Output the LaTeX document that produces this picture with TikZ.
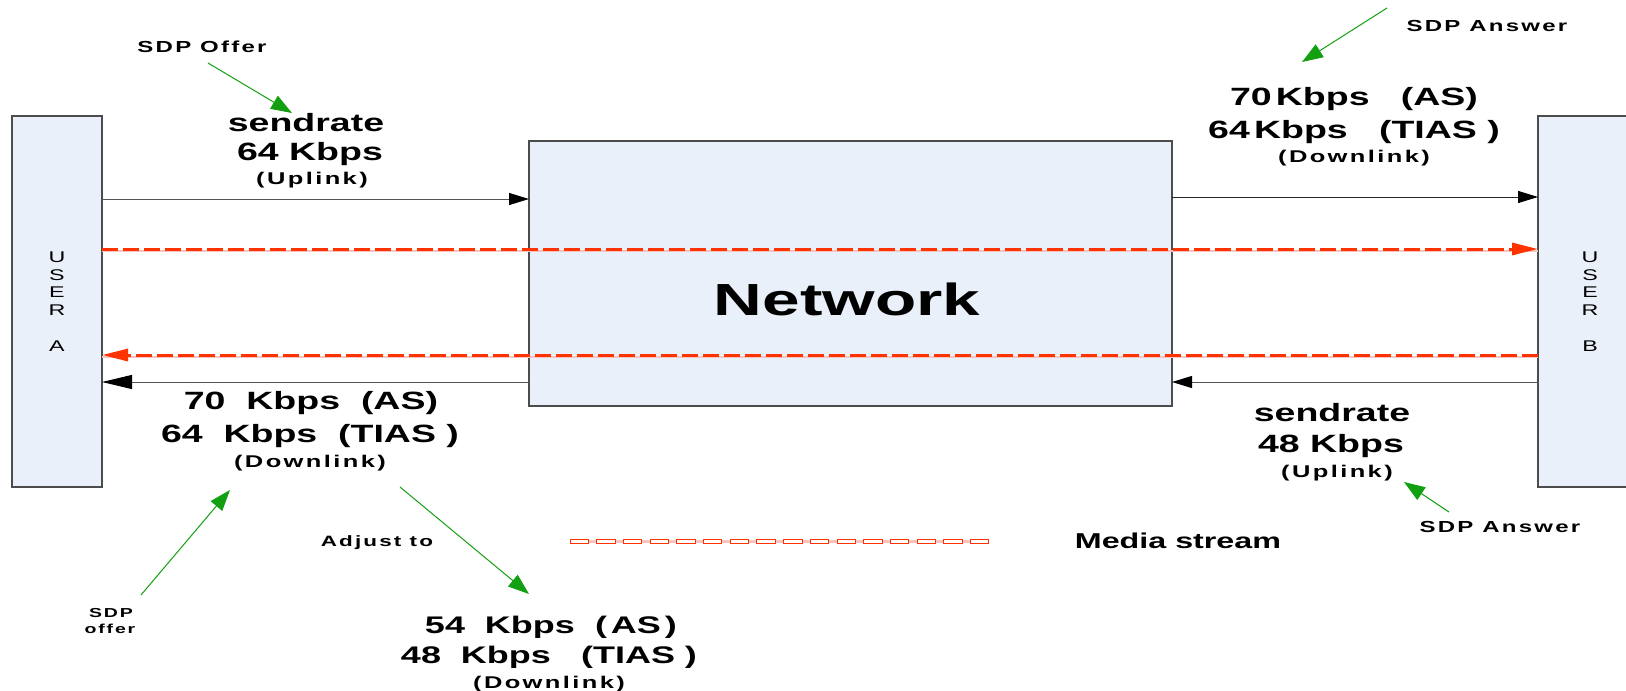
\documentclass[tikz,border=0pt]{standalone}
\usepackage{fontspec}
\setmainfont{Liberation Sans}[FakeStretch=1.5]
\newfontfamily\spaced{Liberation Sans}[FakeStretch=1.5,LetterSpace=14]
\usetikzlibrary{arrows.meta}
\definecolor{boxfill}{HTML}{EAF0F9}
\definecolor{streamred}{HTML}{FF3300}
\definecolor{streampink}{HTML}{F7C4C0}
\definecolor{sdpgreen}{HTML}{12A012}
\definecolor{linegray}{HTML}{555555}
\newcommand\fsz[1]{\fontsize{#1}{#1}\selectfont}

\begin{document}
\begin{tikzpicture}[x=1pt, y=-1pt,
  box/.style={draw=black!70, line width=1.2pt, fill=boxfill, inner sep=0pt, outer sep=0pt},
  big/.style={font=\bfseries\fsz{25}, anchor=base, inner sep=0pt},
  small/.style={font=\spaced\bfseries\fsz{17}, anchor=base, inner sep=0pt},
  sdp/.style={font=\spaced\bfseries\fsz{16}, anchor=base, inner sep=0pt},
  signal/.style={draw=linegray, line width=1pt, -{Triangle[length=20pt,width=12pt,color=black]}},
  stream/.style={draw=streamred, line width=3pt, dash pattern=on 16pt off 5pt,
                 -{Triangle[length=26pt,width=12pt]}},
  streamshade/.style={draw=streampink, line width=2pt},
  hint/.style={draw=sdpgreen, line width=1pt, -{Triangle[length=21pt,width=15pt]}}]

\useasboundingbox (0,0) rectangle (1626,691);

% end points and the network in between
\node[box, minimum width=90pt, minimum height=371pt] (ua) at (57,301.5) {};
\node[box, minimum width=104pt, minimum height=371pt] (ub) at (1590,301.5) {};
\node[box, minimum width=643pt, minimum height=265pt] (net) at (850.5,273.5) {};

\node[font=\fontsize{15.5}{17.7}\selectfont, align=center] (uatext) at (ua.center) {U\\S\\E\\R\\[17.7pt]A};
\node[font=\fontsize{15.5}{17.7}\selectfont, align=center] (ubtext) at (ub.center) {U\\S\\E\\R\\[17.7pt]B};
\node[font=\bfseries\fsz{45}, anchor=base, inner sep=0pt] (nettext) at (847,315) {Network};

% rows of the message lines
\coordinate (r1) at (0,199);
\coordinate (r1b) at (0,197);
\coordinate (r2) at (0,249);
\coordinate (r2s) at (0,251);
\coordinate (r3) at (0,355);
\coordinate (r3s) at (0,357);
\coordinate (r4) at (0,382);

\draw[signal] (ua.east |- r1) -- (net.west |- r1);
\draw[signal, draw=black!85] (net.east |- r1b) -- (ub.west |- r1b);
\draw[streamshade] (ua.east |- r2s) -- (ub.west |- r2s);
\draw[stream] (ua.east |- r2) -- (ub.west |- r2);
\draw[streamshade] (ub.west |- r3s) -- (ua.east |- r3s);
\draw[stream] (ub.west |- r3) -- (ua.east |- r3);
\draw[signal] (ub.west |- r4) -- (net.east |- r4);
\draw[signal, -{Triangle[length=30pt,width=14pt,color=black]}] (net.west |- r4) -- (ua.east |- r4);

% rate labels, user A side
\node[sdp] (offerA) at (202,52) {SDP Offer};
\node[big] (srA) at (306,131) {sendrate};
\node[big] (rateA) at (310,160) {64~Kbps};
\node[small] (upA) at (312,184) {(Uplink)};

\node[big] (asA) at (311,409) {70~~Kbps~~(AS)};
\node[big] (tiasA) at (310,442) {64~~Kbps~~(TIAS )};
\node[small] (dnA) at (310,467) {(Downlink)};

% rate labels, user B side
\node[sdp] (answerB) at (1487,31) {SDP Answer};
\node[big] (asB) at (1354,105) {70\,Kbps~~~(AS)};
\node[big] (tiasB) at (1354,138) {64\,Kbps~~~(TIAS )};
\node[small] (dnB) at (1354,162) {(Downlink)};

\node[big] (srB) at (1332,421) {sendrate};
\node[big] (rateB) at (1331,452) {48~Kbps};
\node[small] (upB) at (1337,477) {(Uplink)};
\node[sdp] (answerA) at (1500,532) {SDP Answer};

% adjusted downlink
\node[sdp, font=\spaced\bfseries\fsz{13}] (offerB1) at (111,617) {SDP};
\node[sdp, font=\spaced\bfseries\fsz{13}] (offerB2) at (110,633) {offer};
\node[font=\spaced\bfseries\fsz{15}, anchor=base, inner sep=0pt] (adj) at (377,546) {Adjust to};
\node[big, font=\bfseries\fsz{24}] (as2) at (551,633) {54~~Kbps~~(\,AS\,)};
\node[big, font=\bfseries\fsz{24}] (tias2) at (549,663) {48~~Kbps~~~(TIAS )};
\node[small] (dn2) at (549,688) {(Downlink)};

% SDP pointers
\coordinate (g1a) at (208,63);   \coordinate (g1b) at (292,113);
\coordinate (g2a) at (1387,8);   \coordinate (g2b) at (1302,62);
\coordinate (g3a) at (1449,512); \coordinate (g3b) at (1404,482);
\coordinate (g4a) at (141,595);  \coordinate (g4b) at (230,490);
\coordinate (g5a) at (400,487);  \coordinate (g5b) at (529,594);
\draw[hint] (g1a) -- (g1b);
\draw[hint] (g2a) -- (g2b);
\draw[hint] (g3a) -- (g3b);
\draw[hint] (g4a) -- (g4b);
\draw[hint] (g5a) -- (g5b);

% legend
\coordinate (lg0) at (570,541);
\coordinate (lg1) at (989,541);
\draw[streampink, line width=3pt] (lg0) -- (lg1);
\foreach \i in {0,...,15}
  \draw[streamred, line width=1pt, fill=white] (570+\i*26.7,539) rectangle ++(18.4,4);
\node[font=\bfseries\fsz{21.5}, anchor=base, inner sep=0pt] (media) at (1178,548) {Media stream};
\end{tikzpicture}
\end{document}
